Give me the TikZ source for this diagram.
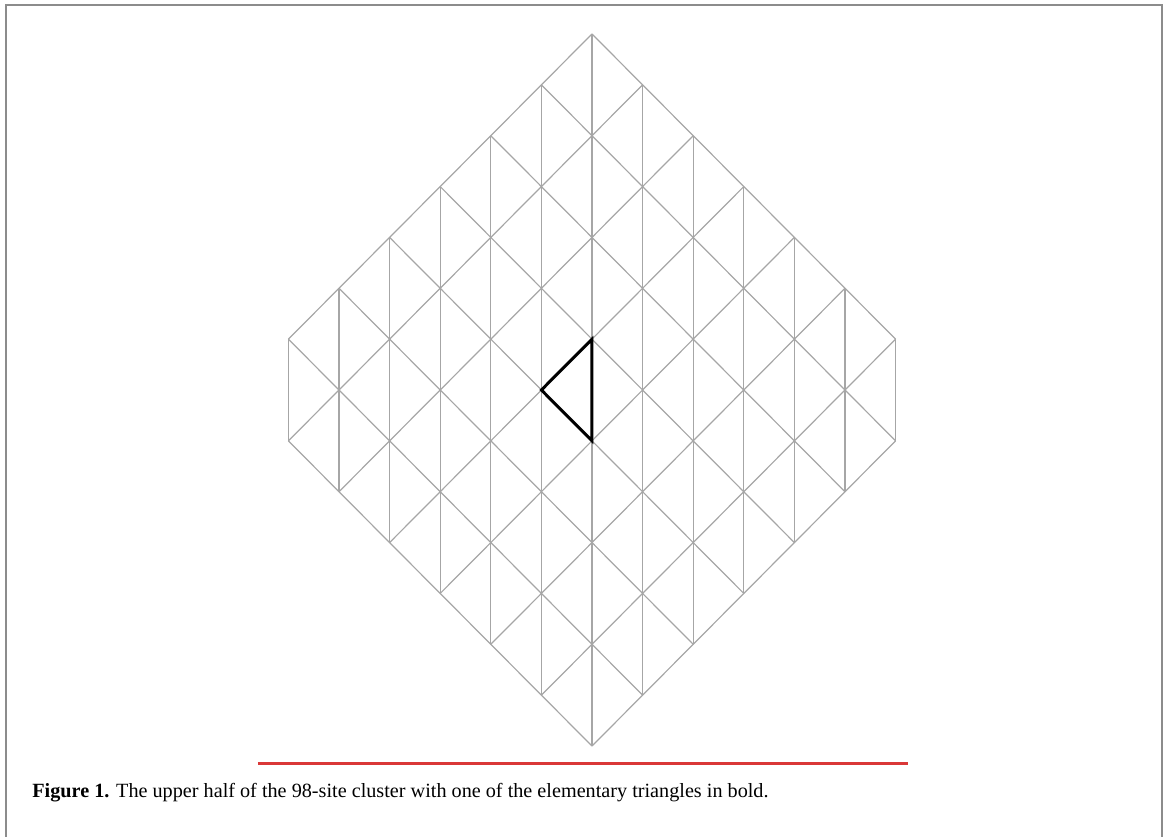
\documentclass[tikz,border=0pt]{standalone}
\usepackage{fontspec}
\setmainfont{Liberation Serif}
\definecolor{rulered}{RGB}{218,56,56}
\begin{document}
\begin{tikzpicture}[x=25.3pt, y=25.43pt,
    bond/.style={draw=black!35, line width=0.6pt},
    boldbond/.style={draw=black, line width=1.5pt, line join=miter}]
  % page frame, origin at the centre of the cluster
  \useasboundingbox (-296pt,-223pt) rectangle (288pt,195pt);
  \draw[black!45, line width=1pt] (-293pt,-230pt) -- (-293pt,192.5pt) -- (285pt,192.5pt) -- (285pt,-230pt);
  % vertical bonds
  \foreach \k in {-6,...,6} {
    \pgfmathsetmacro\h{7-abs(\k)}
    \draw[bond] (\k,-\h) -- (\k,\h);
  }
  % diagonal bonds, x+y=c and x-y=c
  \foreach \c in {-7,-5,...,7} {
    \pgfmathsetmacro\a{max((\c-7)/2,-6)}
    \pgfmathsetmacro\b{min((\c+7)/2,6)}
    \draw[bond] ({\a},{\c-(\a)}) -- ({\b},{\c-(\b)});
    \draw[bond] ({\a},{(\a)-\c}) -- ({\b},{(\b)-\c});
  }
  % the elementary triangle
  \draw[boldbond] (0,1) -- (-1,0) -- (0,-1) -- cycle;
  \draw[rulered, line width=1.3pt] (-167pt,-186.75pt) -- (158pt,-186.75pt);
  \node[anchor=base west, inner sep=0pt, font=\fontsize{10.1pt}{12pt}\selectfont] (caption) at (-280pt,-203.5pt)
    {\textbf{Figure 1.} The upper half of the 98-site cluster with one of the elementary triangles in bold.};
\end{tikzpicture}
\end{document}
